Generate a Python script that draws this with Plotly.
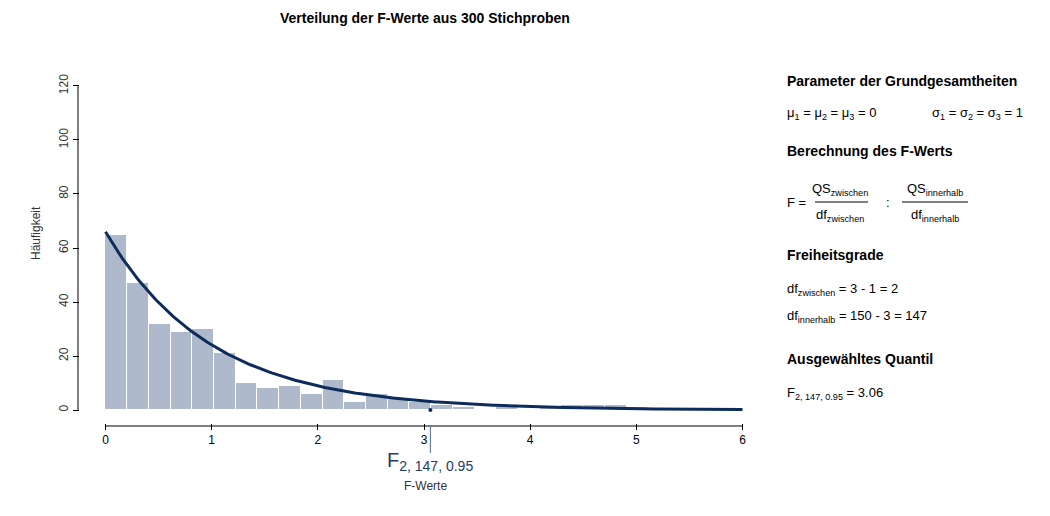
import math
import numpy as np
import plotly.graph_objects as go

bin_width = 0.2045
counts = [65, 47, 32, 29, 30, 21, 10, 8, 9, 6, 11, 3, 6, 4, 3, 2, 1, 0, 1, 0, 1, 2, 2, 2, 1]
curve_scale = 66
df1, df2 = 2, 147
f_crit = 3.06
x_ticks = [0, 1, 2, 3, 4, 5, 6]
y_ticks = [0, 20, 40, 60, 80, 100, 120]

centers = [bin_width * (i + 0.5) for i in range(len(counts))]

def fpdf(x):
    lb = math.lgamma((df1 + df2) / 2) - math.lgamma(df1 / 2) - math.lgamma(df2 / 2)
    return math.exp(lb + (df1 / 2) * math.log(df1 / df2) + (df1 / 2 - 1) * math.log(x)
                    - ((df1 + df2) / 2) * math.log(1 + df1 * x / df2)) if x > 0 else 1.0

xs = np.linspace(0, 6, 300)
ys = [curve_scale * fpdf(x) for x in xs]

fig = go.Figure()
fig.add_trace(go.Bar(x=centers, y=counts, width=bin_width, marker=dict(color="#aebacb", line=dict(color="white", width=1)), hoverinfo="skip"))
fig.add_trace(go.Scatter(x=xs, y=ys, mode="lines", line=dict(color="#0c2c5c", width=3), hoverinfo="skip"))
fig.add_trace(go.Scatter(x=[f_crit], y=[0], mode="markers", marker=dict(color="#0c2c5c", size=4), hoverinfo="skip"))

DX, DY = 8, 7
W, H = 1050, 516
L, T = 80 - DX, 72 - DY
R, B = W - (768 - DX), H - (422 - DY)
pw, ph = W - L - R, H - T - B

def px(x):
    return (x - DX - L) / pw

def py(y):
    return (H - B - (y - DY)) / ph

font = "Liberation Sans, Arial, sans-serif"
ann = []
def txt(x, y, s, size=13, bold=False, anchor="left", color="black"):
    if bold:
        s = "<b>" + s + "</b>"
    ann.append(dict(x=px(x), y=py(y), xref="paper", yref="paper", text=s, showarrow=False,
                    xanchor=anchor, yanchor="middle", font=dict(family=font, size=size, color=color)))

txt(425, 17, "Verteilung der F-Werte aus 300 Stichproben", 14, True, "center")
ann.append(dict(x=px(27), y=py(232), xref="paper", yref="paper", text="Häufigkeit", showarrow=False,
                textangle=-90, font=dict(family=font, size=12, color="#333")))
txt(785, 80, "Parameter der Grundgesamtheiten", 14, True)
txt(785, 113, "μ<sub>1</sub> = μ<sub>2</sub> = μ<sub>3</sub> = 0")
txt(930, 113, "σ<sub>1</sub> = σ<sub>2</sub> = σ<sub>3</sub> = 1")
txt(785, 150, "Berechnung des F-Werts", 14, True)
txt(785, 201, "F =")
txt(840, 188, "QS<sub>zwischen</sub>", anchor="center")
txt(840, 214, "df<sub>zwischen</sub>", anchor="center")
txt(888, 201, ":", anchor="center")
txt(935, 188, "QS<sub>innerhalb</sub>", anchor="center")
txt(935, 214, "df<sub>innerhalb</sub>", anchor="center")
txt(785, 254, "Freiheitsgrade", 14, True)
txt(785, 288, "df<sub>zwischen</sub> = 3 - 1 = 2")
txt(785, 315, "df<sub>innerhalb</sub> = 150 - 3 = 147")
txt(785, 358, "Ausgewähltes Quantil", 14, True)
txt(785, 392, "F<sub>2, 147, 0.95</sub> = 3.06")
txt(430, 460, "F<sub>2, 147, 0.95</sub>", 20, anchor="center", color="#1f3a68")
txt(425, 485, "F-Werte", 12, anchor="center", color="#333")

shapes = []
def line(x0, y0, x1, y1, color="black", w=1):
    shapes.append(dict(type="line", xref="paper", yref="paper", x0=px(x0), y0=py(y0), x1=px(x1), y1=py(y1),
                       line=dict(color=color, width=w)))
line(815, 201, 868, 201)
line(902, 201, 968, 201)
shapes.append(dict(type="line", xref="x", yref="paper", x0=0, x1=6, y0=py(425), y1=py(425), line=dict(color="black", width=1)))
shapes.append(dict(type="line", xref="paper", yref="y", x0=px(78), x1=px(78), y0=0, y1=120, line=dict(color="black", width=1)))
shapes.append(dict(type="line", xref="x", yref="paper", x0=f_crit, x1=f_crit, y0=py(425), y1=py(452), line=dict(color="#4a6a96", width=1)))

fig.update_layout(
    width=W, height=H, margin=dict(l=L, r=R, t=T, b=B),
    plot_bgcolor="white", paper_bgcolor="white", showlegend=False, bargap=0,
    annotations=ann, shapes=shapes,
    font=dict(family=font, size=12, color="#333"),
    xaxis=dict(range=[-0.24, 6.24], tickvals=x_ticks, showgrid=False, zeroline=False, showline=False,
               ticks="outside", ticklen=6, tickcolor="black", tickfont=dict(size=12, color="black")),
    yaxis=dict(range=[-4.8, 124.8], tickvals=y_ticks, showgrid=False, zeroline=False, showline=False,
               ticks="outside", ticklen=6, tickcolor="black", tickangle=-90, tickfont=dict(size=12, color="#333")),
)
fig.write_html("out.html")
